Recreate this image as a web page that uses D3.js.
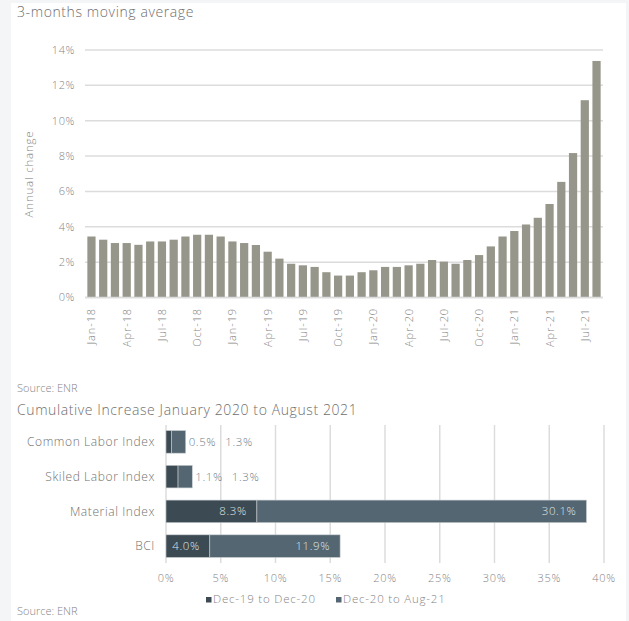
<!DOCTYPE html>
<html>
<head>
<meta charset="utf-8">
<script src="https://cdn.jsdelivr.net/npm/d3@7/dist/d3.min.js"></script>
<style>
  html, body { margin: 0; padding: 0; background: #f4f5f7; }
  svg { display: block; }
  text { font-family: "Open Sans", Lato, sans-serif; font-weight: 300; }
</style>
</head>
<body>
<svg id="chart" width="629" height="621"></svg>
<script>
// Monthly construction cost index change, 3-month moving average (%)
const months = [
  "Jan-18","Feb-18","Mar-18","Apr-18","May-18","Jun-18","Jul-18","Aug-18","Sep-18","Oct-18","Nov-18","Dec-18",
  "Jan-19","Feb-19","Mar-19","Apr-19","May-19","Jun-19","Jul-19","Aug-19","Sep-19","Oct-19","Nov-19","Dec-19",
  "Jan-20","Feb-20","Mar-20","Apr-20","May-20","Jun-20","Jul-20","Aug-20","Sep-20","Oct-20","Nov-20","Dec-20",
  "Jan-21","Feb-21","Mar-21","Apr-21","May-21","Jun-21","Jul-21","Aug-21"
];
const annualChange = [
  3.45, 3.27, 3.08, 3.08, 2.98, 3.17, 3.17, 3.27, 3.45, 3.55, 3.55, 3.45,
  3.17, 3.08, 2.97, 2.59, 2.20, 1.91, 1.82, 1.73, 1.43, 1.24, 1.24, 1.43,
  1.54, 1.73, 1.73, 1.82, 1.91, 2.12, 2.03, 1.91, 2.12, 2.40, 2.89, 3.45,
  3.76, 4.13, 4.51, 5.29, 6.54, 8.17, 11.16, 13.38
];
const yTicks = [0, 2, 4, 6, 8, 10, 12, 14];

// Cumulative increase by index, two periods (%)
const indices = ["Common Labor Index", "Skiled Labor Index", "Material Index", "BCI"];
const periodA = [0.5, 1.1, 8.3, 4.0];   // Dec-19 to Dec-20
const periodB = [1.3, 1.3, 30.1, 11.9]; // Dec-20 to Aug-21
const periodNames = ["Dec-19 to Dec-20", "Dec-20 to Aug-21"];
const xTicks = [0, 5, 10, 15, 20, 25, 30, 35, 40];

const svg = d3.select("#chart");
const textGray = "#858585";
const gridColor = "#dcdcdc";

// white panel
svg.append("rect").attr("x", 11).attr("y", 3).attr("width", 615).attr("height", 618).attr("fill", "#fff");

// ---------- Top chart: moving average ----------
svg.append("text").attr("x", 17).attr("y", 17).attr("font-size", 14).attr("fill", "#6e6e6e")
  .attr("letter-spacing", 0.6)
  .text("3-months moving average");

const x1 = d3.scaleBand().domain(months).range([85, 603]).paddingInner(0.3).paddingOuter(0.2);
const y1 = d3.scaleLinear().domain([0, 14]).range([297.5, 50]);

const gTop = svg.append("g");
gTop.selectAll("line.grid").data(yTicks).join("line")
  .attr("x1", 85).attr("x2", 603)
  .attr("y1", d => y1(d)).attr("y2", d => y1(d))
  .attr("stroke", gridColor).attr("stroke-width", 1.5);

gTop.selectAll("text.ytick").data(yTicks).join("text")
  .attr("x", 75).attr("y", d => y1(d)).attr("dy", "0.35em")
  .attr("text-anchor", "end").attr("font-size", 11).attr("fill", textGray)
  .attr("letter-spacing", 0.6)
  .text(d => d + "%");

svg.append("text")
  .attr("transform", "translate(33,174) rotate(-90)")
  .attr("text-anchor", "middle").attr("font-size", 11.5).attr("fill", textGray)
  .attr("letter-spacing", 0.8)
  .text("Annual change");

gTop.selectAll("rect.bar").data(months).join("rect")
  .attr("x", d => x1(d)).attr("width", x1.bandwidth())
  .attr("y", (d, i) => y1(annualChange[i]))
  .attr("height", (d, i) => y1(0) - y1(annualChange[i]))
  .attr("fill", "#97968b");

gTop.append("line").attr("x1", 85).attr("x2", 603).attr("y1", y1(0)).attr("y2", y1(0))
  .attr("stroke", gridColor).attr("stroke-width", 1.5);

gTop.selectAll("text.xtick").data(months.filter((d, i) => i % 3 === 0)).join("text")
  .attr("transform", d => `translate(${x1(d) + x1.bandwidth() / 2 + 4},308) rotate(-90)`)
  .attr("text-anchor", "end").attr("font-size", 11).attr("fill", textGray)
  .attr("letter-spacing", 0.9)
  .text(d => d);

svg.append("text").attr("x", 17).attr("y", 392).attr("font-size", 11).attr("fill", textGray)
  .text("Source: ENR");

// ---------- Bottom chart: cumulative increase ----------
svg.append("text").attr("x", 17).attr("y", 415).attr("font-size", 14).attr("fill", "#6e6e6e")
  .attr("letter-spacing", 0.6)
  .text("Cumulative Increase January 2020 to August 2021");

const x2 = d3.scaleLinear().domain([0, 40]).range([166, 604]);
const y2 = d3.scaleBand().domain(indices).range([425, 563]).paddingInner(0.35).paddingOuter(0.16);
const colors = ["#3c4a53", "#546671"];

const gBot = svg.append("g");
gBot.selectAll("line.vgrid").data(xTicks).join("line")
  .attr("x1", d => x2(d)).attr("x2", d => x2(d))
  .attr("y1", 425).attr("y2", 563)
  .attr("stroke", gridColor).attr("stroke-width", 1.5);

gBot.selectAll("text.xtick").data(xTicks).join("text")
  .attr("x", d => x2(d)).attr("y", 582)
  .attr("text-anchor", "middle").attr("font-size", 11).attr("fill", textGray)
  .attr("letter-spacing", 0.7)
  .text(d => d + "%");

gBot.selectAll("text.cat").data(indices).join("text")
  .attr("x", 155).attr("y", d => y2(d) + y2.bandwidth() / 2).attr("dy", "0.35em")
  .attr("text-anchor", "end").attr("font-size", 12).attr("fill", "#707070")
  .attr("letter-spacing", 0.6)
  .text(d => d);

indices.forEach((name, i) => {
  const a = periodA[i], b = periodB[i];
  const yTop = y2(name), h = y2.bandwidth(), yMid = yTop + h / 2;
  const segs = [{ v0: 0, v1: a, val: a, c: colors[0] }, { v0: a, v1: a + b, val: b, c: colors[1] }];
  segs.forEach(s => {
    gBot.append("rect")
      .attr("x", x2(s.v0)).attr("width", x2(s.v1) - x2(s.v0))
      .attr("y", yTop).attr("height", h)
      .attr("fill", s.c).attr("stroke", "#c8cdd0").attr("stroke-width", 0.6);
  });
  // value labels: inside the segment end when it fits, otherwise after the bar
  let nextX = x2(a + b) + 3;
  segs.forEach(s => {
    const t = gBot.append("text")
      .attr("y", yMid).attr("dy", "0.35em").attr("font-size", 11.5)
      .attr("letter-spacing", 0.6)
      .text(s.val.toFixed(1) + "%");
    const w = t.node().getComputedTextLength();
    const segW = x2(s.v1) - x2(s.v0);
    if (segW >= w + 12) {
      t.attr("x", x2(s.v1) - 10).attr("text-anchor", "end").attr("fill", "#dfe3e6");
    } else {
      t.attr("x", nextX).attr("text-anchor", "start").attr("fill", "#6f808c");
      nextX += w + 9;
    }
  });
});

// legend
const legendX = [206, 336];
periodNames.forEach((n, i) => {
  svg.append("rect").attr("x", legendX[i]).attr("y", 597).attr("width", 5.5).attr("height", 5.5).attr("fill", colors[i]);
  svg.append("text").attr("x", legendX[i] + 7).attr("y", 603).attr("font-size", 11.5).attr("fill", textGray)
    .attr("letter-spacing", 0.8).text(n);
});

svg.append("text").attr("x", 17).attr("y", 615).attr("font-size", 11).attr("fill", textGray)
  .text("Source: ENR");
</script>
</body>
</html>
